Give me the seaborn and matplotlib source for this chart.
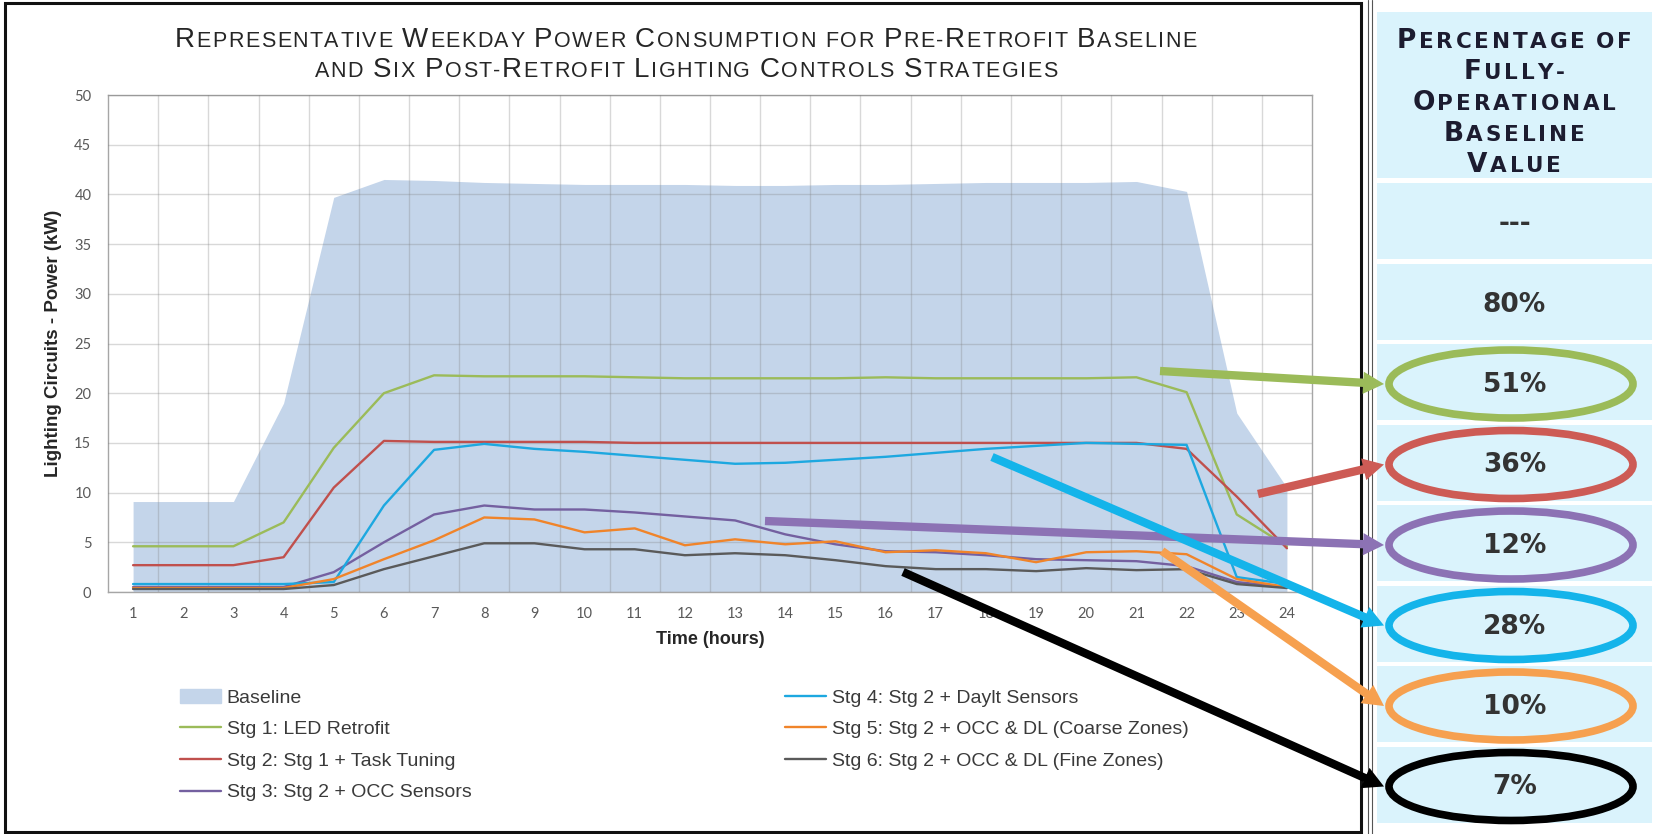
import numpy as np
import pandas as pd
import seaborn as sns
import matplotlib.pyplot as plt
from matplotlib.patches import Rectangle, Ellipse, FancyArrowPatch, Patch
from matplotlib.lines import Line2D

# hourly weekday power (kW)
hours = list(range(1, 25))
baseline = [9.1, 9.1, 9.1, 19.0, 39.7, 41.5, 41.4, 41.2, 41.1, 41.0, 41.0, 41.0,
            40.9, 40.9, 41.0, 41.0, 41.1, 41.2, 41.2, 41.2, 41.3, 40.3, 18.0, 10.5]
stg1 = [4.6, 4.6, 4.6, 7.0, 14.5, 20.0, 21.8, 21.7, 21.7, 21.7, 21.6, 21.5,
        21.5, 21.5, 21.5, 21.6, 21.5, 21.5, 21.5, 21.5, 21.6, 20.1, 7.8, 4.6]
stg2 = [2.7, 2.7, 2.7, 3.5, 10.5, 15.2, 15.1, 15.1, 15.1, 15.1, 15.0, 15.0,
        15.0, 15.0, 15.0, 15.0, 15.0, 15.0, 15.0, 15.0, 15.0, 14.4, 9.6, 4.4]
stg3 = [0.5, 0.5, 0.5, 0.5, 2.0, 5.0, 7.8, 8.7, 8.3, 8.3, 8.0, 7.6,
        7.2, 5.8, 4.8, 4.1, 4.0, 3.7, 3.3, 3.2, 3.1, 2.6, 1.0, 0.5]
stg4 = [0.8, 0.8, 0.8, 0.8, 1.0, 8.7, 14.3, 14.9, 14.4, 14.1, 13.7, 13.3,
        12.9, 13.0, 13.3, 13.6, 14.0, 14.4, 14.7, 15.0, 14.9, 14.8, 1.5, 0.8]
stg5 = [0.4, 0.4, 0.4, 0.4, 1.3, 3.3, 5.2, 7.5, 7.3, 6.0, 6.4, 4.7,
        5.3, 4.8, 5.1, 4.0, 4.2, 3.9, 3.0, 4.0, 4.1, 3.8, 1.3, 0.5]
stg6 = [0.3, 0.3, 0.3, 0.3, 0.7, 2.3, 3.6, 4.9, 4.9, 4.3, 4.3, 3.7,
        3.9, 3.7, 3.2, 2.6, 2.3, 2.3, 2.1, 2.4, 2.2, 2.3, 0.8, 0.4]

stage_names = ["Stg 1: LED Retrofit", "Stg 2: Stg 1 + Task Tuning",
               "Stg 3: Stg 2 + OCC Sensors", "Stg 4: Stg 2 + Daylt Sensors",
               "Stg 5: Stg 2 + OCC & DL (Coarse Zones)",
               "Stg 6: Stg 2 + OCC & DL (Fine Zones)"]
stage_colors = ["#9BBB59", "#C0504D", "#7460A0", "#1DA8E0", "#F0842A", "#5A5A5A"]

# right-hand table: percentage of fully-operational baseline
pct_labels = ["---", "80%", "51%", "36%", "12%", "28%", "10%", "7%"]
circled = {"51%": "#9BBB59", "36%": "#CD5B55", "12%": "#8C72B4",
           "28%": "#14B4EA", "10%": "#F6A04F", "7%": "#000000"}
# arrow tails on the chart (px, from top-left) pointing at the circled cells
arrow_tails = {"51%": (1160, 371), "36%": (1258, 494), "12%": (765, 521),
               "28%": (992, 457), "10%": (1162, 551), "7%": (903, 572)}

df = pd.DataFrame({"hour": hours * 6,
                   "kW": stg1 + stg2 + stg3 + stg4 + stg5 + stg6,
                   "stage": [s for s in stage_names for _ in hours]})

sns.set_style("white")
plt.rcParams["font.family"] = ["Liberation Sans", "DejaVu Sans"]

W, H = 1657, 834
fig = plt.figure(figsize=(W / 100, H / 100), dpi=100)
ax = fig.add_axes([108 / W, 1 - 592 / H, (1312 - 108) / W, (592 - 95) / H])

ax.fill_between(hours, baseline, color="#C4D5EA", lw=0, zorder=1)
sns.lineplot(data=df, x="hour", y="kW", hue="stage", palette=stage_colors,
             hue_order=stage_names, linewidth=1.7, legend=False, ax=ax, zorder=3)

ax.set_xlim(0.5, 24.5)
ax.set_ylim(0, 50)
ax.set_xticks(hours)
ax.set_xticks(np.arange(1.5, 24.5, 1), minor=True)
ax.set_yticks(range(0, 51, 5))
ax.set_axisbelow(False)
ax.grid(which="minor", axis="x", color="#808080", alpha=0.3, lw=1)
ax.grid(which="major", axis="y", color="#808080", alpha=0.3, lw=1)
ax.grid(which="major", axis="x", visible=False)
ax.tick_params(which="both", length=0)
ax.tick_params(axis="y", pad=12, labelsize=10.5, labelcolor="#595959")
ax.tick_params(axis="x", pad=11, labelsize=10.5, labelcolor="#595959")
for lab in ax.get_xticklabels() + ax.get_yticklabels():
    lab.set_family("Lato")
for sp in ax.spines.values():
    sp.set_color("#A6A6A6")
    sp.set_linewidth(1)

ax.set_xlabel("Time (hours)", fontsize=13, weight="bold", color="#262626")
ax.set_ylabel("Lighting Circuits - Power (kW)", fontsize=13.5, weight="bold",
              color="#262626")
ax.xaxis.set_label_coords(0.5, (1 - 640 / H - (1 - 592 / H)) / ((592 - 95) / H))
ax.xaxis.label.set_va("center")
ax.yaxis.set_label_coords((54 / W - 108 / W) / ((1312 - 108) / W), 0.5)
ax.yaxis.label.set_va("center")

# legend, two columns
handles = [Patch(color="#C4D5EA", label="Baseline")]
handles += [Line2D([], [], color=c, lw=1.7, label=n)
            for c, n in zip(stage_colors, stage_names)]
leg_kw = dict(loc="upper left", frameon=False, fontsize=14, borderpad=0,
              borderaxespad=0, handlelength=2.1, handletextpad=0.3,
              labelspacing=0.72, labelcolor="#3A3A3A")
fig.legend(handles=handles[:4], bbox_to_anchor=(180 / W, 1 - 689 / H), **leg_kw)
fig.legend(handles=handles[4:], bbox_to_anchor=(785 / W, 1 - 689 / H), **leg_kw)


def small_caps(x, y, text, big, small, color, weight="normal",
               family="Liberation Sans", track=0.0):
    # small-cap text centred on x, baseline at y (pixels from top-left)
    r = fig.canvas.get_renderer()
    placed, pos = [], 0.0
    for ch in text:
        if ch == " ":
            pos += big * fig.dpi / 72 * 0.3
            continue
        size = big if ch.isupper() else small
        t = fig.text(0, 1 - y / H, ch.upper(), fontsize=size, color=color,
                     weight=weight, family=family, va="baseline", ha="left", zorder=6)
        placed.append((t, pos))
        pos += t.get_window_extent(r).width + track
    start = x - (pos - track) / 2
    for t, off in placed:
        t.set_x((start + off) / W)


small_caps(686, 47, "Representative Weekday Power Consumption for Pre-Retrofit Baseline",
           20, 15.5, "#262626", track=1.5)
small_caps(686, 77, "and Six Post-Retrofit Lighting Controls Strategies",
           20, 15.5, "#262626", track=1.5)

# frame around the chart and the double rule
fig.add_artist(Rectangle((5 / W, 1 - 832 / H), (1361 - 5) / W, (832 - 3) / H,
                         transform=fig.transFigure, fill=False, ec="#111111", lw=2.2))
for xr in (1368, 1372):
    fig.add_artist(Line2D([xr / W, xr / W], [0, 1], transform=fig.transFigure,
                          color="#555555", lw=0.8))

# right-hand table
cell_x0, cell_x1 = 1377, 1652
fig.add_artist(Rectangle((cell_x0 / W, 1 - 178 / H), (cell_x1 - cell_x0) / W, (178 - 12) / H,
                         transform=fig.transFigure, color="#DAF3FC", lw=0))
for i, line in enumerate(["Percentage of", "Fully-", "Operational", "Baseline", "Value"]):
    small_caps(1514, 48 + 31 * i, line, 19, 15.5, "#1C1C30", weight="bold",
               family="DejaVu Sans", track=2.8)

cx = (cell_x0 + cell_x1) / 2
for i, lab in enumerate(pct_labels):
    top = 183 + 80.5 * i
    mid = top + 38
    fig.add_artist(Rectangle((cell_x0 / W, 1 - (top + 76) / H), (cell_x1 - cell_x0) / W, 76 / H,
                             transform=fig.transFigure, color="#DAF3FC", lw=0))
    fig.text(cx / W, 1 - (mid + 3) / H, lab, ha="center", va="center", fontsize=19,
             weight="bold", family="DejaVu Sans", color="#333333", zorder=6)
    if lab in circled:
        col = circled[lab]
        fig.add_artist(Ellipse((1511 / W, 1 - (mid + 2) / H), 244 / W, 68 / H,
                               transform=fig.transFigure, fill=False, ec=col, lw=5.5, zorder=4))
        tx, ty = arrow_tails[lab]
        fig.add_artist(FancyArrowPatch((tx / W, 1 - ty / H), (1384 / W, 1 - (mid + 2) / H),
                                       transform=fig.transFigure, color=col, lw=0,
                                       arrowstyle="simple,head_length=1.5,head_width=1.6,tail_width=0.6",
                                       mutation_scale=10, shrinkA=0, shrinkB=0, zorder=5))

fig.savefig("out.png", dpi=100)
